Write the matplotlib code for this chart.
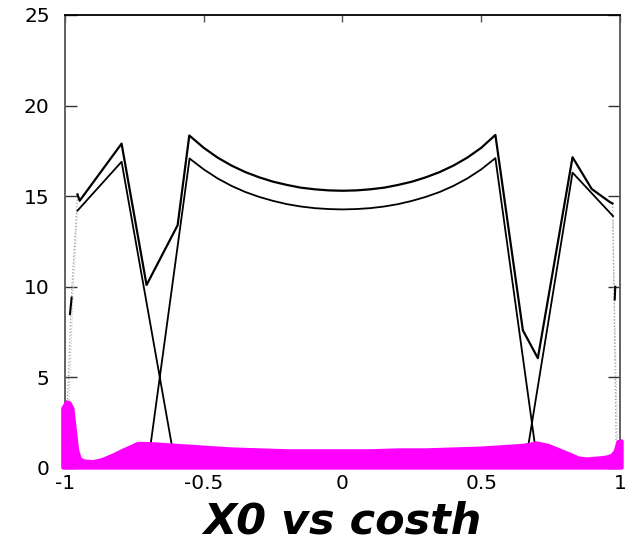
import matplotlib.pyplot as plt

# upper black curve
upper_x = [-0.955, -0.947, -0.796, -0.706, -0.594, -0.552, -0.5, -0.45, -0.4, -0.35, -0.3, -0.25,
           -0.2, -0.15, -0.1, -0.05, 0.0, 0.05, 0.1, 0.15, 0.2, 0.25, 0.3, 0.35, 0.4, 0.45,
           0.5, 0.551, 0.650, 0.704, 0.829, 0.898, 0.964, 0.973]
upper_y = [15.1, 14.75, 17.9, 10.1, 13.4, 18.35, 17.67, 17.13, 16.69, 16.33, 16.04, 15.80,
           15.62, 15.47, 15.38, 15.32, 15.30, 15.32, 15.38, 15.47, 15.62, 15.80, 16.04, 16.33, 16.69, 17.13,
           17.67, 18.38, 7.6, 6.06, 17.15, 15.4, 14.67, 14.6]

# lower black curve
lower_x = [-0.955, -0.796, -0.612, -0.694, -0.551, -0.5, -0.45, -0.4, -0.35, -0.3, -0.25,
           -0.2, -0.15, -0.1, -0.05, 0.0, 0.05, 0.1, 0.15, 0.2, 0.25, 0.3, 0.35, 0.4, 0.45,
           0.5, 0.551, 0.696, 0.667, 0.829, 0.975]
lower_y = [14.2, 16.9, 1.0, 1.0, 17.08, 16.48, 15.98, 15.57, 15.23, 14.96, 14.74,
           14.56, 14.43, 14.34, 14.29, 14.27, 14.29, 14.34, 14.43, 14.56, 14.74, 14.96, 15.23, 15.57, 15.98,
           16.48, 17.1, 1.0, 1.0, 16.3, 13.9]

# faint grey drops near the edges
edge_left_x = [-0.955, -0.975, -0.992]
edge_left_y = [15.0, 10.0, 3.4]
edge_left2_x = [-0.955, -0.970, -0.986]
edge_left2_y = [14.2, 10.0, 3.5]
edge_right_x = [0.973, 0.978, 0.986]
edge_right_y = [14.6, 9.8, 1.4]
edge_right2_x = [0.975, 0.982, 0.991]
edge_right2_y = [13.9, 8.0, 1.4]

# magenta band
mag_x = [-1.008, -0.995, -0.985, -0.975, -0.967, -0.958, -0.948, -0.93, -0.9, -0.87, -0.83, -0.79,
         -0.76, -0.74, -0.7, -0.6, -0.5, -0.4, -0.3, -0.2, -0.1, 0.0, 0.1, 0.2, 0.3, 0.4, 0.5,
         0.6, 0.65, 0.7, 0.74, 0.78, 0.82, 0.85, 0.88, 0.92, 0.95, 0.97, 0.983, 0.992, 1.004]
mag_top = [3.3, 3.65, 3.6, 3.3, 2.2, 1.0, 0.5, 0.38, 0.35, 0.45, 0.7, 1.0,
           1.2, 1.35, 1.35, 1.25, 1.15, 1.05, 1.0, 0.95, 0.95, 0.95, 0.95, 1.0, 1.0, 1.05, 1.1,
           1.2, 1.25, 1.38, 1.25, 1.0, 0.75, 0.55, 0.5, 0.55, 0.6, 0.7, 0.95, 1.45, 1.5]
mag_bottom = 0.05

xticks = [-1, -0.5, 0, 0.5, 1]
xtick_labels = ["-1", "-0.5", "0", "0.5", "1"]
yticks = [0, 5, 10, 15, 20, 25]

fig = plt.figure(figsize=(6.32, 5.45), dpi=100)
ax = fig.add_axes([0.1028, 0.1413, 0.8782, 0.8312])

ax.plot(edge_left_x, edge_left_y, color="#999999", lw=0.9, ls=":")
ax.plot(edge_left2_x, edge_left2_y, color="#bbbbbb", lw=0.8, ls=":")
ax.plot(edge_right_x, edge_right_y, color="#999999", lw=0.9, ls=":")
ax.plot(edge_right2_x, edge_right2_y, color="#bbbbbb", lw=0.8, ls=":")
ax.plot([-0.982, -0.976], [8.5, 9.4], color="black", lw=1.5)
ax.plot([0.981, 0.983], [9.3, 10.0], color="black", lw=1.5)

ax.plot(upper_x, upper_y, color="black", lw=1.6)
ax.plot(lower_x, lower_y, color="black", lw=1.3)

ax.fill_between(mag_x, mag_bottom, mag_top, color="#ff00ff", lw=3,
                edgecolor="#ff00ff", joinstyle="round", zorder=3, clip_on=False)

ax.set_xlim(-1, 1)
ax.set_ylim(0, 25)
ax.set_xticks(xticks)
ax.set_xticklabels(xtick_labels)
ax.set_yticks(yticks)

ax.tick_params(axis="y", direction="in", length=8.6, width=1, left=True, right=True,
               labelsize=14.5, pad=11, color="#333333")
ax.tick_params(axis="x", direction="in", length=5, width=1, bottom=True, top=True,
               labelsize=14.5, pad=4, color="#555555")
for s in ["left", "right"]:
    ax.spines[s].set_color("#555555")
    ax.spines[s].set_linewidth(1.3)
for s in ["top", "bottom"]:
    ax.spines[s].set_color("black")
    ax.spines[s].set_linewidth(1.3)

fig.text(0.542, 0.004, "X0 vs costh", ha="center", va="bottom",
         fontsize=31, fontweight="bold", fontstyle="italic")

plt.savefig("out.png", dpi=100)
